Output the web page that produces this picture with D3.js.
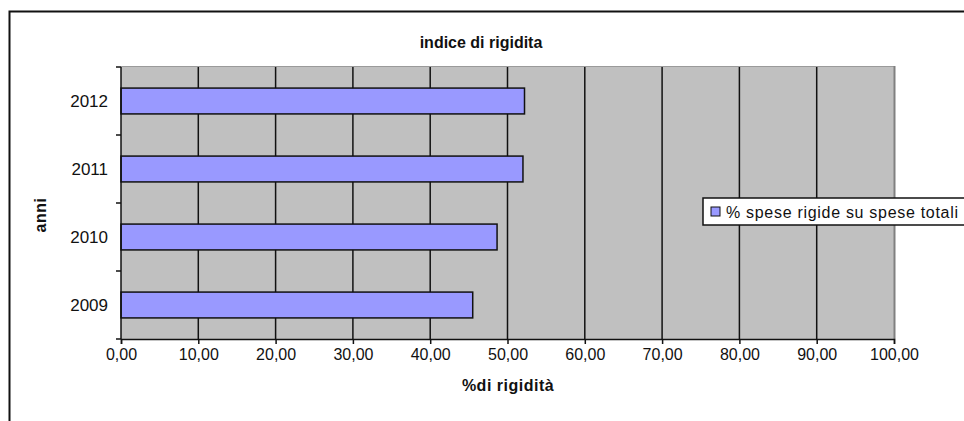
<!DOCTYPE html>
<html>
<head>
<meta charset="utf-8">
<script src="https://cdn.jsdelivr.net/npm/d3@7"></script>
<style>
  html, body { margin: 0; padding: 0; background: #fff; }
  svg { display: block; font-family: Arial, "Liberation Sans", sans-serif; }
</style>
</head>
<body>
<svg id="chart" width="964" height="421"></svg>
<script>
// Rigidity index: share of rigid expenses over total expenses, by year
const years = ["2009", "2010", "2011", "2012"];
const rigidShare = [45.5, 48.65, 52.0, 52.2];
const xTicks = [0, 10, 20, 30, 40, 50, 60, 70, 80, 90, 100];
const seriesName = "% spese rigide su spese totali";
const chartTitle = "indice di rigidita";
const xTitle = "%di rigidità";
const yTitle = "anni";

const svg = d3.select("#chart");
const plot = { left: 121, top: 67, right: 894, bottom: 339 };

// outer chart frame (continues past the right and bottom edges)
svg.append("rect")
  .attr("x", 9.5).attr("y", 11.5)
  .attr("width", 1000).attr("height", 500)
  .attr("fill", "#fff").attr("stroke", "#111").attr("stroke-width", 2);

const x = d3.scaleLinear().domain([0, 100]).range([plot.left, plot.right]);
const y = d3.scaleBand().domain(years.slice().reverse())
  .range([plot.top, plot.bottom]).paddingInner(0.62).paddingOuter(0.31);

// plot background
svg.append("rect")
  .attr("x", plot.left).attr("y", plot.top)
  .attr("width", plot.right - plot.left).attr("height", plot.bottom - plot.top)
  .attr("fill", "#c0c0c0");
// light top edge and dark right edge of the plot area
svg.append("line").attr("x1", plot.left).attr("x2", plot.right)
  .attr("y1", plot.top - 0.5).attr("y2", plot.top - 0.5)
  .attr("stroke", "#9a9a9a").attr("stroke-width", 1);
svg.append("line").attr("x1", plot.right + 0.5).attr("x2", plot.right + 0.5)
  .attr("y1", plot.top - 1).attr("y2", plot.bottom)
  .attr("stroke", "#808080").attr("stroke-width", 2);

// vertical gridlines
svg.append("g").selectAll("line")
  .data(xTicks.filter(d => d > 0 && d < 100))
  .join("line")
  .attr("x1", d => x(d)).attr("x2", d => x(d))
  .attr("y1", plot.top).attr("y2", plot.bottom)
  .attr("stroke", "#111").attr("stroke-width", 1.5);

// bars
svg.append("g").selectAll("rect")
  .data(years.map((yr, i) => ({ yr, v: rigidShare[i] })))
  .join("rect")
  .attr("x", x(0))
  .attr("y", d => y(d.yr))
  .attr("width", d => x(d.v) - x(0))
  .attr("height", y.bandwidth())
  .attr("fill", "#9999ff")
  .attr("stroke", "#111").attr("stroke-width", 1.5);

// x axis
const xAxis = svg.append("g")
  .attr("transform", `translate(0,${plot.bottom})`)
  .call(d3.axisBottom(x).tickValues(xTicks)
    .tickFormat(d => d3.format(".2f")(d).replace(".", ","))
    .tickSizeOuter(0).tickSize(5).tickPadding(5));
xAxis.select(".domain").attr("stroke", "#111").attr("stroke-width", 1.5);
xAxis.selectAll(".tick line").attr("stroke", "#111").attr("stroke-width", 1.5);
xAxis.selectAll("text").attr("font-size", 16).attr("fill", "#111")
  .attr("font-family", "Arial, 'Liberation Sans', sans-serif");

// y axis: category labels, ticks at band boundaries
const yAxis = svg.append("g").attr("transform", `translate(${plot.left},0)`);
yAxis.append("line").attr("x1", 0).attr("x2", 0)
  .attr("y1", plot.top).attr("y2", plot.bottom)
  .attr("stroke", "#111").attr("stroke-width", 1.5);
const step = y.step();
const boundaries = d3.range(years.length + 1).map(i => plot.top + i * step);
yAxis.selectAll(".bt").data(boundaries).join("line").attr("class", "bt")
  .attr("x1", -5).attr("x2", 0)
  .attr("y1", d => d).attr("y2", d => d)
  .attr("stroke", "#111").attr("stroke-width", 1.5);
yAxis.selectAll("text").data(years).join("text")
  .attr("x", -13)
  .attr("y", d => y(d) + y.bandwidth() / 2)
  .attr("dy", "0.35em")
  .attr("text-anchor", "end")
  .attr("font-size", 17).attr("fill", "#111")
  .text(d => d);

// titles
svg.append("text").attr("x", 481).attr("y", 48)
  .attr("text-anchor", "middle").attr("font-size", 16).attr("font-weight", "bold")
  .attr("fill", "#111").text(chartTitle);
svg.append("text").attr("x", 508).attr("y", 391)
  .attr("text-anchor", "middle").attr("font-size", 16).attr("font-weight", "bold")
  .attr("letter-spacing", 0.5)
  .attr("fill", "#111").text(xTitle);
svg.append("text")
  .attr("transform", "translate(46,215) rotate(-90)")
  .attr("text-anchor", "middle").attr("font-size", 16).attr("font-weight", "bold")
  .attr("letter-spacing", 0.5)
  .attr("fill", "#111").text(yTitle);

// legend
const lg = svg.append("g").attr("transform", "translate(703,198)");
lg.append("rect").attr("x", 0).attr("y", 0).attr("width", 280).attr("height", 27)
  .attr("fill", "#fff").attr("stroke", "#111").attr("stroke-width", 1.5);
lg.append("rect").attr("x", 8).attr("y", 9).attr("width", 9).attr("height", 9)
  .attr("fill", "#9999ff").attr("stroke", "#111").attr("stroke-width", 1);
lg.append("text").attr("x", 23).attr("y", 14).attr("dy", "0.35em")
  .attr("font-size", 16).attr("letter-spacing", 0.7).attr("fill", "#111").text(seriesName);
</script>
</body>
</html>
